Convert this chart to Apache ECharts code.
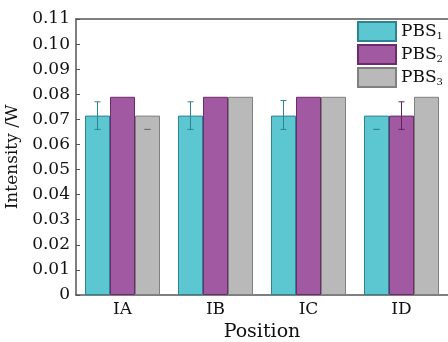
<!DOCTYPE html>
<html>
<head>
<meta charset="utf-8">
<script src="https://cdn.jsdelivr.net/npm/echarts@6/dist/echarts.min.js"></script>
<style>
  html, body { margin: 0; padding: 0; background: #fff; }
  #chart { width: 448px; height: 342px; }
</style>
</head>
<body>
<div id="chart"></div>
<script>
// 数据
const categories = ['IA', 'IB', 'IC', 'ID'];
const seriesNames = ['PBS1', 'PBS2', 'PBS3'];
const pbs1 = [0.0715, 0.0715, 0.0715, 0.0715];
const pbs2 = [0.079, 0.079, 0.079, 0.0715];
const pbs3 = [0.0715, 0.079, 0.079, 0.079];
// 误差棒 [下限, 上限]，null 表示没有
const pbs1Err = [[0.066, 0.077], [0.066, 0.077], [0.066, 0.0775], [0.066, 0.066]];
const pbs2Err = [null, null, null, [0.066, 0.077]];
const pbs3Err = [[0.066, 0.066], null, null, null];

const fills = ['#5CC7D1', '#A15AA2', '#B9B9B9'];
const borders = ['#2E8390', '#6A2C6A', '#808080'];
const errColors = ['#2E8390', '#5E245E', '#6E6E6E'];
const barWidth = 25;
const serif = 'DejaVu Serif';

const chart = echarts.init(document.getElementById('chart'));

const values = [pbs1, pbs2, pbs3];
const errs = [pbs1Err, pbs2Err, pbs3Err];

const series = [];
values.forEach((data, i) => {
    series.push({
        name: seriesNames[i],
        type: 'bar',
        data: data,
        barWidth: barWidth,
        barGap: 0,
        itemStyle: {
            color: fills[i],
            borderColor: borders[i],
            borderWidth: 1
        }
    });
});

// 误差棒 (custom)
errs.forEach((list, i) => {
    const errData = [];
    list.forEach((e, j) => {
        if (e) errData.push([j, e[0], e[1]]);
    });
    series.push({
        type: 'custom',
        silent: true,
        z: 5,
        data: errData,
        renderItem: function (params, api) {
            const c = api.value(0);
            const lo = api.coord([c, api.value(1)]);
            const hi = api.coord([c, api.value(2)]);
            const x = lo[0] + (i - 1) * barWidth;
            const cap = 3;
            const style = { stroke: errColors[i], lineWidth: 1 };
            return {
                type: 'group',
                children: [
                    { type: 'line', shape: { x1: x, y1: lo[1], x2: x, y2: hi[1] }, style },
                    { type: 'line', shape: { x1: x - cap, y1: lo[1], x2: x + cap, y2: lo[1] }, style },
                    { type: 'line', shape: { x1: x - cap, y1: hi[1], x2: x + cap, y2: hi[1] }, style }
                ]
            };
        }
    });
});

const option = {
    animation: false,
    grid: { left: 76, right: 0, top: 19, bottom: 47, containLabel: false, outerBoundsMode: 'none' },
    legend: {
        data: seriesNames,
        orient: 'vertical',
        left: 357,
        top: 21,
        itemWidth: 38,
        itemHeight: 19,
        itemGap: 2,
        icon: 'rect',
        backgroundColor: '#fff',
        padding: [0, 4, 0, 0],
        formatter: function (name) {
            return '{a|PBS}{s|' + name.slice(3) + '}';
        },
        textStyle: {
            rich: {
                a: { fontFamily: serif, fontSize: 17, color: '#111', lineHeight: 20 },
                s: { fontFamily: serif, fontSize: 10, color: '#111', lineHeight: 20, verticalAlign: 'bottom', padding: [8, 0, 0, 0] }
            }
        }
    },
    xAxis: [{
        type: 'category',
        data: categories,
        name: 'Position',
        nameLocation: 'middle',
        nameGap: 26,
        nameTextStyle: { fontFamily: serif, fontSize: 19, color: '#111' },
        axisLine: { lineStyle: { color: '#555', width: 1.5 } },
        axisTick: { show: false },
        axisLabel: { fontFamily: serif, fontSize: 17, color: '#111', margin: 6 }
    }, {
        type: 'category',
        data: categories,
        position: 'top',
        axisLine: { show: true, lineStyle: { color: '#555', width: 1.5 } },
        axisTick: { show: false },
        axisLabel: { show: false }
    }],
    yAxis: {
        type: 'value',
        min: 0,
        max: 0.11,
        interval: 0.01,
        name: 'Intensity /W',
        nameLocation: 'middle',
        nameGap: 51,
        nameTextStyle: { fontFamily: serif, fontSize: 17, color: '#111' },
        axisLine: { show: true, lineStyle: { color: '#555', width: 1.5 } },
        axisTick: { show: true, inside: true, length: 4, lineStyle: { color: '#555' } },
        splitLine: { show: false },
        axisLabel: {
            fontFamily: serif,
            fontSize: 17,
            color: '#111',
            margin: 6,
            formatter: function (v) {
                return v === 0 ? '0' : v.toFixed(2);
            }
        }
    },
    series
};
chart.setOption(option);
</script>
</body>
</html>
